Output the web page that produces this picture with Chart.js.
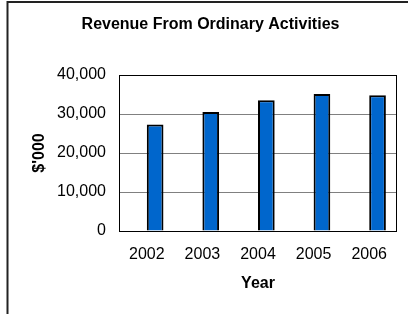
<!DOCTYPE html>
<html>
<head>
<meta charset="utf-8">
<script src="https://cdn.jsdelivr.net/npm/chart.js@4/dist/chart.umd.min.js"></script>
<style>
  html, body { margin: 0; padding: 0; background: #fff; }
</style>
</head>
<body>
<canvas id="grafico" width="408" height="314"></canvas>
<script>
/* ---------- Dados ---------- */
const anos = ['2002', '2003', '2004', '2005', '2006'];
const receita = [27300, 30500, 33500, 35100, 34800];
// série vazia do Excel (ocupa a metade esquerda de cada grupo)
const serieVazia = [null, null, null, null, null];
const ticksY = [0, 10000, 20000, 30000, 40000];

/* ---------- Moldura ---------- */
const moldura = {
  id: 'moldura',
  beforeDatasetsDraw(chart) {
    const { ctx, chartArea: a } = chart;
    ctx.save();
    ctx.strokeStyle = '#000';
    ctx.lineWidth = 1;
    ctx.strokeRect(a.left + 0.5, a.top + 0.5, a.right - a.left - 1, a.bottom - a.top);
    ctx.restore();
  },
  afterDraw(chart) {
    const { ctx } = chart;
    ctx.save();
    ctx.strokeStyle = '#222';
    ctx.lineWidth = 2;
    ctx.beginPath();
    ctx.moveTo(408, 2);
    ctx.lineTo(7.5, 2);
    ctx.lineTo(7.5, 314);
    ctx.stroke();
    ctx.restore();
  }
};

Chart.defaults.font.family = '"Liberation Sans", Arial, sans-serif';
Chart.defaults.font.size = 16;
Chart.defaults.color = '#000';

const ctx = document.getElementById('grafico').getContext('2d');
new Chart(ctx, {
  type: 'bar',
  data: {
    labels: anos,
    datasets: [
      { label: '', data: serieVazia, backgroundColor: 'transparent' },
      { label: 'Revenue', data: receita, backgroundColor: '#0066CC', borderColor: '#000', borderWidth: 2 }
    ]
  },
  options: {
    responsive: false,
    animation: false,
    devicePixelRatio: 1,
    layout: { padding: { left: 24, right: 11, top: 0, bottom: 0 } },
    datasets: { bar: { categoryPercentage: 0.6, barPercentage: 1 } },
    plugins: {
      legend: { display: false },
      tooltip: { enabled: false },
      title: {
        display: true,
        text: 'Revenue From Ordinary Activities',
        font: { size: 16, weight: 'bold' },
        padding: { top: 14.5, bottom: 41.3 }
      }
    },
    scales: {
      x: {
        grid: { display: false, drawTicks: false },
        border: { display: false },
        ticks: { padding: 14 },
        title: { display: true, text: 'Year', font: { size: 16, weight: 'bold' }, padding: { top: 0, bottom: 21 } },
        afterFit(scale) { scale.height = 83; }
      },
      y: {
        min: 0,
        max: 40000,
        afterBuildTicks(scale) { scale.ticks = ticksY.map(v => ({ value: v })); },
        grid: { color: '#808080', drawTicks: false },
        border: { display: false },
        ticks: {
          padding: 13,
          callback: v => v.toLocaleString('en-US')
        },
        title: { display: true, text: "$'000", font: { size: 16, weight: 'bold' }, padding: { top: 6, bottom: 0 } },
        afterFit(scale) { scale.width = 95; }
      }
    }
  },
  plugins: [moldura]
});
</script>
</body>
</html>
